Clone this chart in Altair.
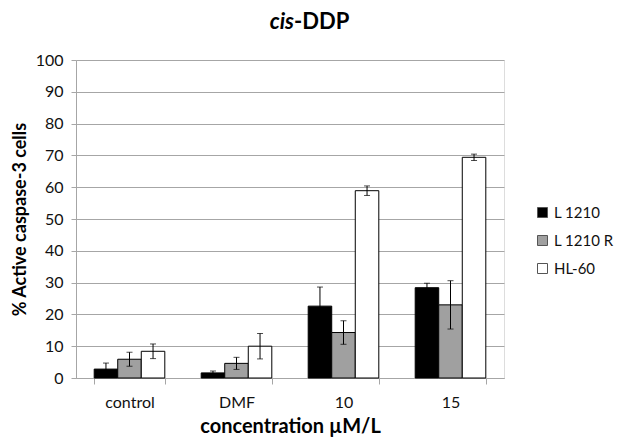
import altair as alt
import pandas as pd

categories = ["control", "DMF", "10", "15"]
series = ["L 1210", "L 1210 R", "HL-60"]
l1210 = [2.8, 1.6, 22.6, 28.4]
l1210_err = [1.9, 0.6, 6.0, 1.4]
l1210r = [5.9, 4.6, 14.3, 23.0]
l1210r_err = [2.2, 1.9, 3.7, 7.6]
hl60 = [8.4, 10.0, 58.9, 69.4]
hl60_err = [2.3, 4.0, 1.5, 1.0]
y_ticks = list(range(0, 101, 10))

rows = []
for s, vals, errs in [("L 1210", l1210, l1210_err), ("L 1210 R", l1210r, l1210r_err), ("HL-60", hl60, hl60_err)]:
    for c, v, e in zip(categories, vals, errs):
        rows.append({"cat": c, "series": s, "value": v, "lo": v - e, "hi": v + e})
df = pd.DataFrame(rows)

FONT = "Lato"
x_enc = alt.X("cat:N", sort=categories, title="concentration µM/L",
              scale=alt.Scale(paddingInner=0.34, paddingOuter=0.17),
              axis=alt.Axis(labelAngle=0, tickBand="extent", tickSize=6, tickColor="#a6a6a6",
                            domainColor="#a6a6a6", labelFontSize=16, labelFont=FONT, labelColor="#111",
                            labelPadding=10, titleFont=FONT, titleFontSize=20, titleFontWeight="bold",
                            titleColor="#000", titlePadding=6, grid=False))
xoff = alt.XOffset("series:N", sort=series, scale=alt.Scale(paddingInner=0))
y_axis = alt.Axis(values=y_ticks, tickSize=5, tickColor="#a6a6a6", domainColor="#a6a6a6",
                  gridColor="#a6a6a6", labelFontSize=16, labelFont=FONT, labelColor="#111",
                  labelPadding=8, titleFont=FONT, titleFontSize=18, titleFontWeight="bold",
                  titleColor="#000", titlePadding=6)
y_scale = alt.Scale(domain=[0, 100])
Y_TITLE = "% Active caspase-3 cells"

base = alt.Chart(df)
bars = base.mark_bar(stroke="black", strokeWidth=1).encode(
    x=x_enc, xOffset=xoff,
    y=alt.Y("value:Q", scale=y_scale, title=Y_TITLE, axis=y_axis),
    fill=alt.Fill("series:N", sort=series,
                  scale=alt.Scale(domain=series, range=["#000000", "#a0a0a0", "#ffffff"]),
                  legend=alt.Legend(title=None, orient="none", legendX=459, legendY=145,
                                    symbolType="square", symbolSize=100, symbolStrokeColor="#555",
                                    symbolStrokeWidth=1, labelFont=FONT, labelFontSize=15,
                                    labelColor="#111", rowPadding=12, labelOffset=4, padding=0,
                                    labelLimit=200)),
)
rule = base.mark_rule(color="black", strokeWidth=1).encode(
    x=x_enc, xOffset=xoff,
    y=alt.Y("lo:Q", scale=y_scale, title=Y_TITLE, axis=y_axis), y2="hi:Q")
cap_hi = base.mark_tick(color="black", size=6, thickness=1).encode(
    x=x_enc, xOffset=xoff, y=alt.Y("hi:Q", scale=y_scale, title=Y_TITLE, axis=y_axis))
cap_lo = base.mark_tick(color="black", size=6, thickness=1).encode(
    x=x_enc, xOffset=xoff, y=alt.Y("lo:Q", scale=y_scale, title=Y_TITLE, axis=y_axis))

t1 = alt.Chart(pd.DataFrame({"t": ["cis"]})).mark_text(
    font=FONT, fontSize=22, fontWeight="bold", fontStyle="italic", align="right", baseline="alphabetic"
).encode(text="t:N", x=alt.value(218), y=alt.value(-31))
t2 = alt.Chart(pd.DataFrame({"t": ["-DDP"]})).mark_text(
    font=FONT, fontSize=22, fontWeight="bold", align="left", baseline="alphabetic"
).encode(text="t:N", x=alt.value(218), y=alt.value(-31))

chart = alt.layer(bars, rule, cap_hi, cap_lo, t1, t2).properties(
    width=428, height=318,
    autosize=alt.AutoSizeParams(type="none"),
    padding={"left": 76, "top": 60, "right": 113, "bottom": 59},
).configure_view(stroke=None).configure(background="white")

chart.save("out.html", embed_options={"renderer": "svg", "actions": False})
